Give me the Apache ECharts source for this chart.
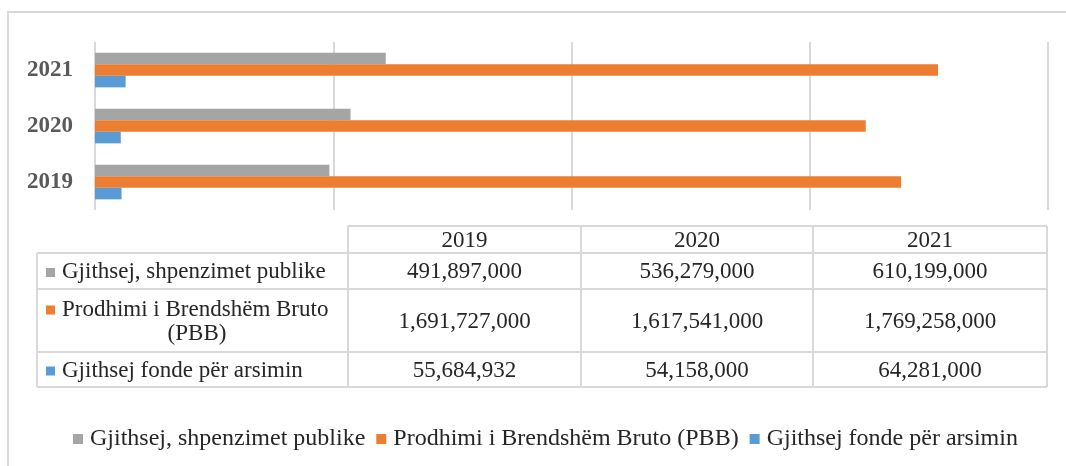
<!DOCTYPE html>
<html>
<head>
<meta charset="utf-8">
<script src="https://cdn.jsdelivr.net/npm/echarts@6/dist/echarts.min.js"></script>
<style>
  html, body { margin: 0; padding: 0; background: #fff; }
  #chart { width: 1066px; height: 466px; }
</style>
</head>
<body>
<div id="chart"></div>
<script>
// data
const years = ['2019', '2020', '2021'];
const seriesNames = ['Gjithsej, shpenzimet publike', 'Prodhimi i Brendshëm Bruto (PBB)', 'Gjithsej fonde për arsimin'];
const spending = [491897000, 536279000, 610199000];
const gdp = [1691727000, 1617541000, 1769258000];
const eduFunds = [55684932, 54158000, 64281000];
const colors = ['#A5A5A5', '#ED7D31', '#5B9BD5'];

const serif = '"Liberation Serif", "Times New Roman", serif';
const lineCol = '#d9d9d9';

let myChart = echarts.init(document.getElementById('chart'), null, { renderer: 'canvas' });

/* data table under the plot */
function fmt(v) {
  return v.toLocaleString('en-US');
}
let table = [];
let colX = [37, 348, 581, 813, 1047];
let rowY = [226, 253, 289, 352, 387];
let rowLabels = [['Gjithsej, shpenzimet publike'], ['Prodhimi i Brendshëm Bruto', '(PBB)'], ['Gjithsej fonde për arsimin']];
let rowValues = [spending, gdp, eduFunds];

function hline(x1, x2, y) {
  table.push({ type: 'line', shape: { x1: x1, y1: y, x2: x2, y2: y }, style: { stroke: lineCol, lineWidth: 2 }, silent: true });
}
function vline(x, y1, y2) {
  table.push({ type: 'line', shape: { x1: x, y1: y1, x2: x, y2: y2 }, style: { stroke: lineCol, lineWidth: 2 }, silent: true });
}
// borders
hline(colX[1], colX[4], rowY[0]);
for (let r = 1; r < rowY.length; r++) hline(colX[0], colX[4], rowY[r]);
vline(colX[0], rowY[1], rowY[4]);
for (let c = 1; c < colX.length; c++) vline(colX[c], rowY[0], rowY[4]);

function cellText(txt, x, y, align) {
  table.push({
    type: 'text', silent: true,
    style: { text: txt, x: x, y: y, align: align, verticalAlign: 'middle',
      fontSize: 23, fontFamily: serif, fill: '#262626' }
  });
}

// header years
for (let c = 0; c < years.length; c++) {
  cellText(years[c], (colX[c + 1] + colX[c + 2]) / 2, (rowY[0] + rowY[1]) / 2 + 1, 'center');
}
// rows
for (let r = 0; r < rowLabels.length; r++) {
  let cy = (rowY[r + 1] + rowY[r + 2]) / 2 + 1;
  let lines = rowLabels[r];
  let firstLineY = cy - (lines.length - 1) * 12;
  table.push({
    type: 'rect', silent: true,
    shape: { x: 46, y: firstLineY - 4, width: 9, height: 9 },
    style: { fill: colors[r] }
  });
  for (let k = 0; k < lines.length; k++) {
    // first line sits after the marker, wrapped lines are centred
    if (k === 0) cellText(lines[k], 62, firstLineY, 'left');
    else cellText(lines[k], 197, firstLineY + k * 24, 'center');
  }
  for (let c = 0; c < years.length; c++) {
    cellText(fmt(rowValues[r][c]), (colX[c + 1] + colX[c + 2]) / 2, cy, 'center');
  }
}
// outer frame
table.push({
  type: 'rect', silent: true, z: -1,
  shape: { x: 8, y: 12, width: 1200, height: 600 },
  style: { fill: 'none', stroke: lineCol, lineWidth: 2 }
});

let option = {
  animation: false,
  backgroundColor: '#fff',
  grid: { left: 95, right: 18, top: 42, bottom: 256, containLabel: false },
  legend: {
    data: seriesNames,
    bottom: 10,
    left: 68,
    icon: 'rect',
    itemWidth: 10,
    itemHeight: 10,
    itemGap: 11,
    textStyle: { fontFamily: serif, fontSize: 24, color: '#262626', padding: [0, 0, 0, 2] }
  },
  xAxis: {
    type: 'value',
    min: 0,
    max: 2000000000,
    interval: 500000000,
    axisLabel: { show: false },
    axisLine: { show: false },
    axisTick: { show: false },
    splitLine: { show: true, lineStyle: { color: lineCol, width: 2 } }
  },
  yAxis: {
    type: 'category',
    data: years,
    axisLine: { show: false },
    axisTick: { show: false },
    axisLabel: { margin: 22, fontFamily: serif, fontSize: 23, fontWeight: 'bold', color: '#595959' }
  },
  series: [
    { name: seriesNames[0], type: 'bar', data: spending, itemStyle: { color: colors[0] },
      barGap: '0%', barCategoryGap: '38%' },
    { name: seriesNames[1], type: 'bar', data: gdp, itemStyle: { color: colors[1] } },
    { name: seriesNames[2], type: 'bar', data: eduFunds, itemStyle: { color: colors[2] } }
  ],
  graphic: table
};

if (option && typeof option === 'object') {
  myChart.setOption(option, true);
}
</script>
</body>
</html>
